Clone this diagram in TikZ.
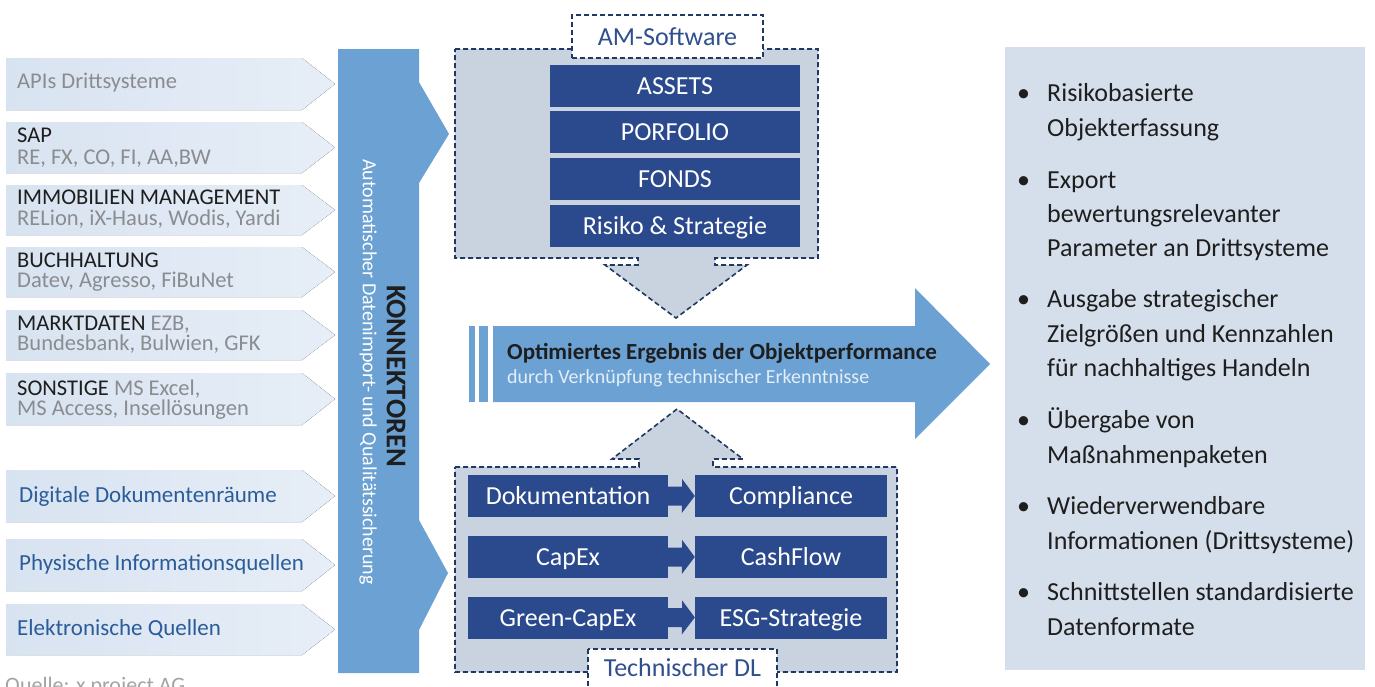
\documentclass[tikz,border=0pt]{standalone}
\usepackage{fontspec}
\setmainfont{Carlito}

\definecolor{navy}{HTML}{2B4A8D}
\definecolor{konn}{HTML}{6BA1D3}
\definecolor{boxgray}{HTML}{C9D3DF}
\definecolor{panel}{HTML}{D5DFEB}
\definecolor{chev}{HTML}{D8E3F1}
\definecolor{chevlight}{HTML}{E7EEF7}
\definecolor{dashnavy}{HTML}{1F3864}
\definecolor{ink}{HTML}{1E1E1E}
\definecolor{txtgray}{HTML}{8A8C90}
\definecolor{txtblue}{HTML}{2A5C9A}
\definecolor{labelblue}{HTML}{2F4F8F}
\definecolor{subwhite}{HTML}{E4EEF8}

\begin{document}
\begin{tikzpicture}[x=1pt, y=-1pt, line join=miter,
  src/.style={anchor=base west, inner sep=0pt, text=ink, font=\fontsize{22.5}{22.5}\selectfont},
  dashbox/.style={draw=dashnavy, line width=1.6pt, dash pattern=on 5pt off 3pt},
  darkbox/.style={fill=navy, text=white, inner sep=0pt, minimum height=42pt, text height=22pt, text depth=5pt,
    font=\fontsize{26}{26}\selectfont},
  point/.style={anchor=base west, inner sep=0pt, text=ink, font=\fontsize{26}{26}\selectfont}]
\useasboundingbox (0,0) rectangle (1375,686);
\fill[white] (0,0) rectangle (1375,686);

% Quellen links
\foreach \t/\b in {58/110, 122/173, 185/235, 247/297, 310/360, 373/425, 470/522, 539/591, 604/655}
  \fill[left color=chev, right color=chevlight] (6,\t) -- (302,\t) -- (335,{(\t+\b)/2}) -- (302,\b) -- (6,\b) -- cycle;

\node[src, text=txtgray] (api) at (17,88) {APIs Drittsysteme};
\node[src] (sap) at (17,142) {SAP};
\node[src, text=txtgray] (sap2) at (17,164) {RE, FX, CO, FI, AA,BW};
\node[src] (imm) at (17,204) {IMMOBILIEN MANAGEMENT};
\node[src, text=txtgray] (imm2) at (17,225) {RELion, iX-Haus, Wodis, Yardi};
\node[src] (buch) at (17,267) {BUCHHALTUNG};
\node[src, text=txtgray] (buch2) at (17,287) {Datev, Agresso, FiBuNet};
\node[src] (markt) at (17,330) {MARKTDATEN \textcolor{txtgray}{EZB,}};
\node[src, text=txtgray] (markt2) at (17,350) {Bundesbank, Bulwien, GFK};
\node[src] (sonst) at (17,395) {SONSTIGE \textcolor{txtgray}{MS Excel,}};
\node[src, text=txtgray] (sonst2) at (17,415) {MS Access, Insellösungen};
\node[src, text=txtblue, font=\fontsize{23}{23}\selectfont] (dig) at (19,502) {Digitale Dokumentenräume};
\node[src, text=txtblue, font=\fontsize{23}{23}\selectfont] (phys) at (19,570) {Physische Informationsquellen};
\node[src, text=txtblue, font=\fontsize{23}{23}\selectfont] (elek) at (17,635) {Elektronische Quellen};

\node[src, text=txtgray!80, font=\fontsize{22}{22}\selectfont] (quelle) at (5,692) {Quelle: x project AG};

% Konnektoren
\fill[konn] (338,49) -- (419,49) -- (419,82) -- (449,134) -- (419,183) -- (419,520)
  -- (448,573) -- (419,630) -- (419,673) -- (338,673) -- cycle;
\node[rotate=-90, text=ink, font=\fontsize{28.5}{28.5}\selectfont\bfseries] (konnt) at (396,376) {KONNEKTOREN};
\node[rotate=-90, text=white, font=\fontsize{20}{20}\selectfont] (qs) at (368,372) {Automatischer Datenimport- und Qualitätssicherung};

% AM-Software
\draw[dashbox, fill=boxgray] (455,49) -- (818,49) -- (818,258) -- (715,258) -- (715,265) -- (747,265)
  -- (676,318) -- (605,265) -- (638,265) -- (638,258) -- (455,258) -- cycle;
\node[dashbox, fill=white, minimum width=191pt, minimum height=43pt, text=labelblue,
  font=\fontsize{26}{26}\selectfont] (am) at (667.5,36.5) {AM-Software};
\foreach \n/\y/\t in {assets/85.5/ASSETS, port/132/PORFOLIO, fonds/179/FONDS, risk/225.5/Risiko \& Strategie}
  \node[darkbox, minimum width=250pt] (\n) at (675,\y) {\t};

% Ergebnis
\fill[konn] (469,326) rectangle (475,402);
\fill[konn] (479,326) rectangle (488,402);
\fill[konn] (493,326) -- (915,326) -- (915,288) -- (990,364) -- (915,439) -- (915,402) -- (493,402) -- cycle;
\node[anchor=base west, inner sep=0pt, text=ink, font=\fontsize{23}{23}\selectfont\bfseries] (erg) at (507,359)
  {Optimiertes Ergebnis der Objektperformance};
\node[anchor=base west, inner sep=0pt, text=subwhite, font=\fontsize{20}{20}\selectfont] (erg2) at (507,383)
  {durch Verknüpfung technischer Erkenntnisse};

% Technischer DL
\draw[dashbox, fill=boxgray] (455,467) -- (639,467) -- (639,459) -- (612,459) -- (677,409) -- (743,459)
  -- (713,459) -- (713,467) -- (897,467) -- (897,672) -- (455,672) -- cycle;
\foreach \a/\b/\y/\s/\t in {dok/comp/496/Dokumentation/Compliance, capex/cash/557/CapEx/CashFlow,
    green/esg/617.5/Green-CapEx/ESG-Strategie}{
  \node[darkbox, minimum width=200pt] (\a) at (568,\y) {\s};
  \node[darkbox, minimum width=192pt] (\b) at (791,\y) {\t};
  \fill[navy] (\a.east) ++(0,-9.5) -- ++(14,0) -- ++(0,-7.5) -- (\b.west) -- ++(-13,17) -- ++(0,-7.5)
    -- ++(-14,0) -- cycle;
}
\draw[dashbox, fill=white] (588,649) rectangle (777,705);
\node[anchor=base, inner sep=0pt, text=labelblue, font=\fontsize{26}{26}\selectfont] (dl) at (682.5,676) {Technischer DL};

% Ergebnisse rechts
\fill[panel] (1005,47) rectangle (1365,670);
\foreach \y in {101, 188, 307, 428, 514, 600}
  \node[point] at (1017,\y) {•};
\foreach \y/\t [count=\i] in {101/Risikobasierte, 136/Objekterfassung, 188/Export, 222/bewertungsrelevanter,
    256/Parameter an Drittsysteme, 307/Ausgabe strategischer, 342/Zielgrößen und Kennzahlen,
    376/für nachhaltiges Handeln, 428/Übergabe von, 463/Maßnahmenpaketen, 514/Wiederverwendbare,
    549/Informationen (Drittsysteme), 600/Schnittstellen standardisierte, 635/Datenformate}
  \node[point] (p\i) at (1047,\y) {\t};
\end{tikzpicture}
\end{document}
